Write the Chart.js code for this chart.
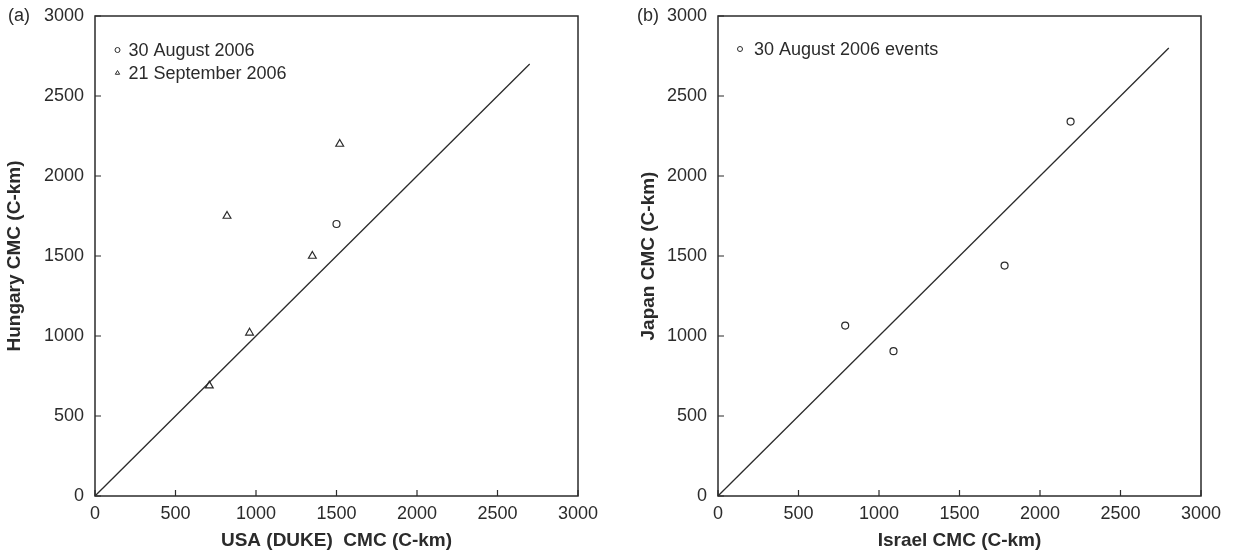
<!DOCTYPE html>
<html>
<head>
<meta charset="utf-8">
<script src="https://cdn.jsdelivr.net/npm/chart.js@4.4.1/dist/chart.umd.min.js"></script>
<style>
body { margin: 0; background: #fff; }
.panel { position: absolute; top: 0; width: 617px; height: 556px; }
</style>
</head>
<body>
<div class="panel" style="left:0"><canvas id="chartA"></canvas></div>
<div class="panel" style="left:617px"><canvas id="chartB"></canvas></div>
<script>
// panel (a): USA (Duke) vs Hungary
var usaAug = [1500];
var hunAug = [1700];
var usaSep = [710, 820, 960, 1350, 1520];
var hunSep = [690, 1750, 1020, 1500, 2200];
var lineA = [0, 2700];

// panel (b): Israel vs Japan
var israelAug = [790, 1090, 1780, 2190];
var japanAug = [1065, 905, 1440, 2340];
var lineB = [0, 2800];

var axisMin = 0, axisMax = 3000, axisStep = 500;

var ink = '#2b2b2b';
var fontFamily = '"Liberation Sans", Arial, Helvetica, sans-serif';

function toPoints(xs, ys) {
    return xs.map(function(x, i) { return { x: x, y: ys[i] }; });
}

// box round the plot and short ticks pointing inwards
var frame = {
    id: 'frame',
    afterDraw: function(chart) {
        var ctx = chart.ctx, a = chart.chartArea;
        var xs = chart.scales.x, ys = chart.scales.y;
        ctx.save();
        ctx.strokeStyle = ink;
        ctx.lineWidth = 1.5;
        ctx.strokeRect(a.left, a.top, a.right - a.left, a.bottom - a.top);
        ctx.lineWidth = 1.2;
        ctx.beginPath();
        xs.ticks.forEach(function(t) {
            var px = xs.getPixelForValue(t.value);
            ctx.moveTo(px, a.bottom);
            ctx.lineTo(px, a.bottom - 6);
        });
        ys.ticks.forEach(function(t) {
            var py = ys.getPixelForValue(t.value);
            ctx.moveTo(a.left, py);
            ctx.lineTo(a.left + 6, py);
        });
        ctx.stroke();
        ctx.restore();
    }
};

// legend drawn inside the plot, plus the panel letter
var innerLegend = {
    id: 'innerLegend',
    afterDraw: function(chart, args, opts) {
        var ctx = chart.ctx, a = chart.chartArea;
        ctx.save();
        ctx.font = '18px ' + fontFamily;
        ctx.textBaseline = 'middle';
        ctx.fillStyle = ink;
        ctx.fillText(opts.letter, opts.letterX, chart.scales.y.getPixelForValue(axisMax));
        var y = a.top + opts.top;
        chart.data.datasets.forEach(function(ds) {
            if (!ds.label) return;
            var mx = a.left + opts.left;
            ctx.strokeStyle = ink;
            ctx.fillStyle = 'rgba(0,0,0,0)';
            ctx.lineWidth = 1;
            Chart.helpers.drawPoint(ctx, { pointStyle: ds.pointStyle, radius: opts.radius, borderWidth: 1, rotation: 0 }, mx, y);
            ctx.fillStyle = ink;
            ctx.fillText(ds.label, mx + opts.gap, y + 1);
            y += opts.rowHeight;
        });
        ctx.restore();
    }
};

function plainNumber(v) { return String(v); }

function makeOptions(cfg) {
    return {
        responsive: true,
        maintainAspectRatio: false,
        animation: false,
        devicePixelRatio: 1,
        layout: { padding: { left: cfg.padLeft, right: cfg.padRight, top: 16, bottom: 0 } },
        plugins: {
            legend: { display: false },
            tooltip: { enabled: false },
            innerLegend: cfg.legend
        },
        scales: {
            x: {
                type: 'linear',
                min: axisMin, max: axisMax,
                afterFit: function(s) { s.height = 60; s.paddingLeft = 0; s.paddingRight = 0; },
                grid: { display: false, drawTicks: false },
                border: { display: false },
                ticks: { stepSize: axisStep, padding: 7, color: ink, callback: plainNumber,
                         font: { size: 18, family: fontFamily } },
                title: { display: true, text: cfg.xTitle, color: ink, padding: { top: 0, bottom: 4 },
                         font: { size: 19, weight: 'bold', family: fontFamily } }
            },
            y: {
                type: 'linear',
                min: axisMin, max: axisMax,
                afterFit: function(s) { s.width = cfg.yWidth; s.paddingTop = 0; s.paddingBottom = 0; },
                grid: { display: false, drawTicks: false },
                border: { display: false },
                ticks: { stepSize: axisStep, padding: 11, color: ink, callback: plainNumber,
                         font: { size: 18, family: fontFamily } },
                title: { display: true, text: cfg.yTitle, color: ink, padding: { top: 3, bottom: 0 },
                         font: { size: 19, weight: 'bold', family: fontFamily } }
            }
        }
    };
}

function markerSet(label, points, style, radius) {
    return {
        label: label,
        data: points,
        pointStyle: style,
        pointRadius: radius,
        pointBorderWidth: 1.2,
        pointBorderColor: ink,
        pointBackgroundColor: 'rgba(0,0,0,0)',
        showLine: false
    };
}

function lineSet(ends) {
    return {
        label: '',
        data: toPoints(ends, ends),
        showLine: true,
        borderColor: ink,
        borderWidth: 1.3,
        pointRadius: 0
    };
}

new Chart(document.getElementById('chartA'), {
    type: 'scatter',
    data: {
        datasets: [
            markerSet('30 August 2006', toPoints(usaAug, hunAug), 'circle', 3.5),
            markerSet('21 September 2006', toPoints(usaSep, hunSep), 'triangle', 4.5),
            lineSet(lineA)
        ]
    },
    options: makeOptions({
        padLeft: 0, padRight: 39, yWidth: 95,
        xTitle: 'USA (DUKE)  CMC (C-km)',
        yTitle: 'Hungary CMC (C-km)',
        legend: { letter: '(a)', letterX: 8, left: 22.5, top: 34, rowHeight: 23, radius: 2.5, gap: 11 }
    }),
    plugins: [frame, innerLegend]
});

new Chart(document.getElementById('chartB'), {
    type: 'scatter',
    data: {
        datasets: [
            markerSet('30 August 2006 events', toPoints(israelAug, japanAug), 'circle', 3.5),
            lineSet(lineB)
        ]
    },
    options: makeOptions({
        padLeft: 17, padRight: 33, yWidth: 84,
        xTitle: 'Israel CMC (C-km)',
        yTitle: 'Japan CMC (C-km)',
        legend: { letter: '(b)', letterX: 20, left: 22, top: 33, rowHeight: 23, radius: 2.5, gap: 14 }
    }),
    plugins: [frame, innerLegend]
});
</script>
</body>
</html>
